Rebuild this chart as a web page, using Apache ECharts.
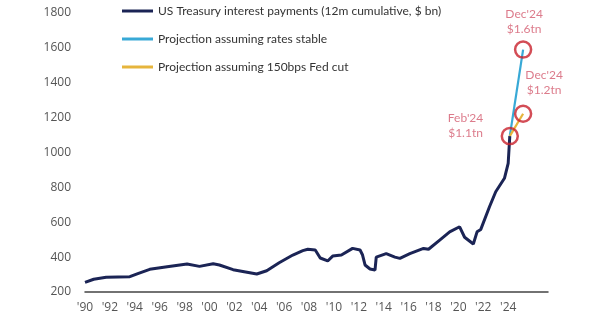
<!DOCTYPE html>
<html><head><meta charset="utf-8">
<script src="https://cdn.jsdelivr.net/npm/echarts@6/dist/echarts.min.js"></script>
<style>html,body{margin:0;padding:0;background:#fff}#c{width:600px;height:335px}</style>
</head><body><div id="c"></div>
<script>
// Historical series: year (decimal) and 12m cumulative interest payments ($ bn)
var histYears = [1990.0,1990.7,1991.7,1993.6,1994.3,1995.2,1996.6,1998.2,1999.2,2000.3,2000.8,2001.9,2003.8,2004.6,2005.6,2006.7,2007.5,2007.9,2008.5,2008.9,2009.5,2009.9,2010.6,2011.5,2012.1,2012.3,2012.5,2012.9,2013.3,2013.4,2014.2,2014.9,2015.3,2016.1,2017.2,2017.6,2018.5,2019.3,2020.1,2020.2,2020.5,2021.2,2021.5,2021.8,2022.5,2023.0,2023.7,2024.0,2024.13];
var histValues = [255,273,284,288,307,330,345,360,347,362,355,328,303,322,368,412,437,445,441,395,378,406,412,450,441,412,355,332,326,400,420,400,393,420,450,445,498,545,574,565,514,475,545,559,689,775,852,937,1094];
// Projections from Feb'24 to Dec'24
var projYears = [2024.13, 2025.2];
var projStable = [1094, 1590];
var projCut = [1094, 1222];
// Annotations
var annYears = [2024.13, 2025.2, 2025.2];
var annValues = [1094, 1590, 1222];
var annLabels = ["Feb'24\n$1.1tn", "Dec'24\n$1.6tn", "Dec'24\n$1.2tn"];
var seriesNames = ["US Treasury interest payments (12m cumulative, $ bn)", "Projection assuming rates stable", "Projection assuming 150bps Fed cut"];
var yTicks = [200,400,600,800,1000,1200,1400,1600,1800];

function zip(xs, ys){ return xs.map(function(x,i){return [x, ys[i]];}); }

var labelPos = ['left','top','top'];
var labelAlign = ['center','center','center'];
var labelOff = [[-30,-10],[1,1],[21,-2]];
var annData = annYears.map(function(x,i){
  return {value:[x, annValues[i]], label:{position: labelPos[i], offset: labelOff[i], align: labelAlign[i], formatter: annLabels[i]}};
});

var chart = echarts.init(document.getElementById('c'));
chart.setOption({
  animation:false,
  grid:{left:85, right:52, top:13, bottom:43},
  legend:{
    data: seriesNames,
    orient:'vertical', left:117, top:0, itemGap:16,
    icon:'rect', itemWidth:31, itemHeight:3,
    textStyle:{fontFamily:'Lato', fontSize:12, color:'#333'}
  },
  xAxis:{
    type:'value', min:1990, max:2027.2, interval:2,
    axisLine:{show:true, lineStyle:{color:'#444', width:1.5}},
    axisTick:{show:false}, splitLine:{show:false},
    axisLabel:{fontFamily:'Open Sans', fontSize:12, color:'#555', margin:10,
      formatter:function(v){ if(v>2024) return ''; return "'" + String(v).slice(2); }}
  },
  yAxis:{
    type:'value', min:yTicks[0], max:yTicks[yTicks.length-1], interval:200,
    axisLine:{show:false}, axisTick:{show:false}, splitLine:{show:false},
    axisLabel:{fontFamily:'Open Sans', fontSize:12, color:'#555', margin:14,
      formatter:function(v){ return String(v); }}
  },
  series:[
    {name:seriesNames[0], type:'line', data:zip(histYears,histValues), symbol:'none',
     lineStyle:{color:'#1b2455', width:3}, itemStyle:{color:'#1b2455'}, z:3},
    {name:seriesNames[1], type:'line', data:zip(projYears,projStable), symbol:'none',
     lineStyle:{color:'#38a9d6', width:2.2}, itemStyle:{color:'#38a9d6'}, z:2},
    {name:seriesNames[2], type:'line', data:zip(projYears,projCut), symbol:'none',
     lineStyle:{color:'#e6b53c', width:2.2}, itemStyle:{color:'#e6b53c'}, z:2},
    {name:'ann', type:'scatter', data:annData, symbol:'circle', symbolSize:16,
     itemStyle:{color:'rgba(0,0,0,0)', borderColor:'#c8202c', borderWidth:2.5}, z:5,
     label:{show:true, color:'#d35a6e', fontFamily:'Lato', fontSize:12, lineHeight:15}}
  ]
});
</script></body></html>
